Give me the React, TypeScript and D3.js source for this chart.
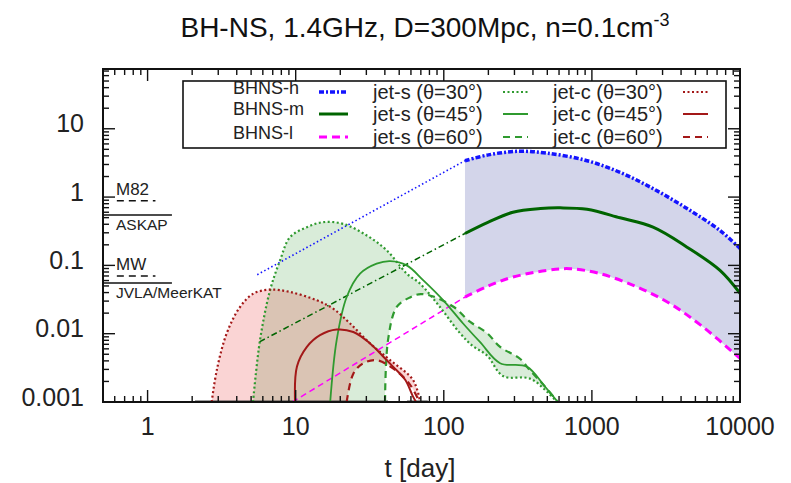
import React from "react";
import * as d3 from "d3";

type P = [number, number];

// ---------- text ----------
const titleMain = "BH-NS, 1.4GHz, D=300Mpc, n=0.1cm";
const titleSup = "-3";
const xLabel = "t [day]";
const xTicks = [1, 10, 100, 1000, 10000];
const xTickLabels = ["1", "10", "100", "1000", "10000"];
const yTicks = [0.001, 0.01, 0.1, 1, 10];
const yTickLabels = ["0.001", "0.01", "0.1", "1", "10"];

// ---------- BH-NS merger ejecta (t [day], flux [mJy]) ----------
const bhnsHEarly: P[] = [[5.5, 0.073], [139, 3.41]];
const bhnsH: P[] = [[139, 3.41], [200, 4.15], [312, 4.67], [498, 4.4], [927, 3.41], [1549, 2.3], [2588, 1.33], [4387, 0.68], [7328, 0.324], [10000, 0.177]];
const bhnsMEarly: P[] = [[5.7, 0.0076], [139, 0.293]];
const bhnsM: P[] = [[139, 0.293], [200, 0.43], [293, 0.6], [450, 0.68], [610, 0.695], [927, 0.664], [1549, 0.497], [2588, 0.362], [4387, 0.185], [7328, 0.0845], [10000, 0.039]];
const bhnsLEarly: P[] = [[9.5, 0.001], [139, 0.0344]];
const bhnsL: P[] = [[139, 0.0344], [200, 0.05], [293, 0.0675], [498, 0.0845], [711, 0.0895], [1135, 0.0757], [2018, 0.0482], [3367, 0.0276], [5623, 0.01256], [10000, 0.00434]];

// ---------- jets ----------
const jetS30: P[] = [[5.15, 0.001], [5.74, 0.008], [6.71, 0.043], [7.84, 0.118], [9.16, 0.259], [11.9, 0.362], [15.3, 0.429], [20.9, 0.406], [30.2, 0.274], [41.2, 0.166], [56.2, 0.0757], [69.1, 0.054], [94.2, 0.0246], [129, 0.0101], [157, 0.0066], [196, 0.0048], [251, 0.0024], [382, 0.0022], [500, 0.0014], [640, 0.0008]];
const jetS45: P[] = [[17.1, 0.001], [18.9, 0.008], [22.1, 0.0344], [27.2, 0.0757], [35.2, 0.106], [43.4, 0.1155], [56.2, 0.1], [72.8, 0.0604], [99.3, 0.0308], [135, 0.0141], [176, 0.0075], [240, 0.0037], [363, 0.0033], [480, 0.0017], [640, 0.0008]];
const jetS60: P[] = [[40.1, 0.001], [42, 0.008], [48.1, 0.0246], [59.1, 0.034], [70, 0.038], [85, 0.035], [117, 0.0246], [150, 0.015], [196, 0.0102], [240, 0.0064], [327, 0.0043], [382, 0.0029], [480, 0.0017], [640, 0.0008]];
const jetC30: P[] = [[2.71, 0.001], [2.93, 0.0029], [3.42, 0.0101], [4.21, 0.0246], [5.18, 0.0386], [6.71, 0.0442], [9.16, 0.0408], [13.9, 0.0308], [17.9, 0.0233], [23.3, 0.0141], [31.8, 0.0072], [43.4, 0.0041], [62, 0.0021], [70, 0.0009]];
const jetC45: P[] = [[9.9, 0.001], [10.2, 0.0033], [11.9, 0.0064], [14.6, 0.0095], [18.9, 0.0115], [24.5, 0.0106], [31.8, 0.0072], [39.1, 0.0046], [45.4, 0.0033], [55, 0.0021], [62, 0.0012], [67, 0.0009]];
const jetC60: P[] = [[22.1, 0.001], [24.5, 0.0026], [28.6, 0.0037], [35.2, 0.0041], [45.4, 0.0031], [59.1, 0.0018], [70, 0.0009]];

// ---------- detection thresholds ----------
const thresholdNames = ["M82", "ASKAP", "MW", "JVLA/MeerKAT"];
const thresholdValues = [0.885, 0.547, 0.07, 0.0552];
const thresholdDashed = [true, false, true, false];

// clipped-at-floor segments along the bottom
const floorSegments: P[] = [[2.09, 42], [56.5, 78]];

const W = 791, H = 483;
const L = 103, R = 740, T = 69, B = 402;

const x = d3.scaleLog().domain([0.5, 10000]).range([L, R]);
const y = d3.scaleLog().domain([0.001, 75]).range([B, T]);

const lineGen = d3
  .line<P>()
  .x((d) => x(d[0]))
  .y((d) => y(d[1]))
  .curve(d3.curveCatmullRom.alpha(0.5));

function band(upper: P[], lower: P[], toFloor: boolean): string {
  const a = lineGen(upper) as string;
  const b = (lineGen([...lower].reverse()) as string).replace(/^M/, "L");
  const tail = toFloor ? `L${x(upper[0][0])},${y(0.001)}` : "";
  return a + b + tail + "Z";
}

const blue = "#1414ff";
const dgreen = "#006400";
const magenta = "#ff00ff";
const sgreen = "#2f9a2f";
const cred = "#a31818";

const FONT = "'Liberation Sans', Arial, Helvetica, sans-serif";

function minorTicks(lo: number, hi: number): number[] {
  const out: number[] = [];
  for (let e = Math.floor(Math.log10(lo)); e <= Math.ceil(Math.log10(hi)); e++) {
    for (let m = 1; m <= 9; m++) {
      const v = m * Math.pow(10, e);
      if (v > lo * 1.0001 && v < hi * 0.9999) out.push(v);
    }
  }
  return out;
}

export default function App() {
  const xMinor = minorTicks(0.5, 10000);
  const yMinor = minorTicks(0.001, 75);
  const isMajor = (v: number) => Math.abs(Math.log10(v) - Math.round(Math.log10(v))) < 1e-6;

  const legendRowsY = [92, 114, 137];
  const bhnsRowsY = [88, 109, 133];
  const legendBHNS = [
    { label: "BHNS-h", color: blue, w: 3.5, dash: "5,2,2,2" },
    { label: "BHNS-m", color: dgreen, w: 3, dash: "" },
    { label: "BHNS-l", color: magenta, w: 3, dash: "8,5" },
  ];
  const angleLabels = ["30", "45", "60"];
  const dashStyles = ["2,2.5", "", "7,5"];

  return (
    <div style={{ position: "fixed", left: 0, top: 0, width: W, height: H, background: "#fff" }}>
      <svg width={W} height={H} viewBox={`0 0 ${W} ${H}`} style={{ display: "block" }} fontFamily={FONT}>
        <defs>
          <clipPath id="plotclip">
            <rect x={L} y={T} width={R - L} height={B - T} />
          </clipPath>
        </defs>

        {/* title */}
        <text x={425} y={37} textAnchor="middle" fontSize={28} fill="#111">
          {titleMain}
          <tspan dy={-11} fontSize={18}>{titleSup}</tspan>
        </text>

        <g clipPath="url(#plotclip)">
          {/* fills */}
          <path d={band(bhnsH, bhnsL, false)} fill="#d3d5ea" stroke="none" />
          <path d={band(jetS30, jetS60, true)} fill="rgb(0,128,0)" fillOpacity={0.15} stroke="none" />
          <path d={band(jetC30, jetC60, true)} fill="rgb(225,0,0)" fillOpacity={0.17} stroke="none" />

          {/* floor segments */}
          {floorSegments.map((s, i) => (
            <line key={i} x1={x(s[0])} x2={x(s[1])} y1={B} y2={B} stroke="#444" strokeWidth={3} />
          ))}

          {/* BHNS early thin lines */}
          <path d={lineGen(bhnsHEarly) as string} fill="none" stroke={blue} strokeWidth={1.6} strokeDasharray="1.5,2.5" />
          <path d={lineGen(bhnsMEarly) as string} fill="none" stroke={dgreen} strokeWidth={1.5} strokeDasharray="6,3,1.5,3" />
          <path d={lineGen(bhnsLEarly) as string} fill="none" stroke={magenta} strokeWidth={1.5} strokeDasharray="6,4" />

          {/* jets */}
          {[jetS30, jetS45, jetS60].map((d, i) => (
            <path key={"s" + i} d={lineGen(d) as string} fill="none" stroke={sgreen} strokeWidth={i === 1 ? 1.8 : 2.2} strokeDasharray={dashStyles[i]} />
          ))}
          {[jetC30, jetC45, jetC60].map((d, i) => (
            <path key={"c" + i} d={lineGen(d) as string} fill="none" stroke={cred} strokeWidth={i === 1 ? 2 : 2.2} strokeDasharray={dashStyles[i]} />
          ))}

          {/* BHNS thick lines */}
          <path d={lineGen(bhnsH) as string} fill="none" stroke={blue} strokeWidth={3.5} strokeDasharray="5,2,2,2" />
          <path d={lineGen(bhnsM) as string} fill="none" stroke={dgreen} strokeWidth={3} />
          <path d={lineGen(bhnsL) as string} fill="none" stroke={magenta} strokeWidth={3} strokeDasharray="8,5" />
        </g>

        {/* thresholds */}
        {thresholdNames.map((name, i) => {
          const yy = y(thresholdValues[i]);
          const dashed = thresholdDashed[i];
          return (
            <g key={name}>
              {dashed ? (
                <line x1={x(0.62)} x2={x(1.13)} y1={yy} y2={yy} stroke="#111" strokeWidth={1.5} strokeDasharray="7,5" />
              ) : (
                <line x1={L} x2={x(1.46)} y1={yy} y2={yy} stroke="#111" strokeWidth={1.5} />
              )}
              <text
                x={116}
                y={dashed ? yy - 6 : yy + 15}
                fontSize={dashed ? 17 : 15.5}
                fill="#222"
              >
                {name}
              </text>
            </g>
          );
        })}

        {/* ticks */}
        <g stroke="#111" strokeWidth={1.4}>
          {xMinor.map((v, i) => {
            const len = isMajor(v) ? 12 : 6;
            const xx = x(v);
            return (
              <g key={"xt" + i}>
                <line x1={xx} x2={xx} y1={B} y2={B - len} />
                <line x1={xx} x2={xx} y1={T} y2={T + len} />
              </g>
            );
          })}
          {yMinor.map((v, i) => {
            const len = isMajor(v) ? 12 : 6;
            const yy = y(v);
            return (
              <g key={"yt" + i}>
                <line x1={L} x2={L + len} y1={yy} y2={yy} />
                <line x1={R} x2={R - len} y1={yy} y2={yy} />
              </g>
            );
          })}
        </g>

        {/* frame */}
        <rect x={L} y={T} width={R - L} height={B - T} fill="none" stroke="#111" strokeWidth={2} />

        {/* tick labels */}
        {xTicks.map((v, i) => (
          <text key={"xl" + i} x={x(v)} y={435} textAnchor="middle" fontSize={25} fill="#222">
            {xTickLabels[i]}
          </text>
        ))}
        {yTicks.map((v, i) => (
          <text key={"yl" + i} x={84} y={y(v) + 3.5} textAnchor="end" fontSize={25} fill="#222">
            {yTickLabels[i]}
          </text>
        ))}
        <text x={420} y={477} textAnchor="middle" fontSize={26} fill="#222">
          {xLabel}
        </text>

        {/* legend */}
        <rect x={183} y={81} width={543} height={67} fill="#fff" stroke="#111" strokeWidth={1.6} />
        {legendBHNS.map((it, i) => (
          <g key={it.label}>
            <text x={233} y={bhnsRowsY[i] + 6} fontSize={18} fill="#222">
              {it.label}
            </text>
            <line x1={319} x2={348} y1={legendRowsY[i]} y2={legendRowsY[i]} stroke={it.color} strokeWidth={it.w} strokeDasharray={it.dash} />
          </g>
        ))}
        {angleLabels.map((a, i) => (
          <g key={"lg" + a}>
            <text x={373} y={legendRowsY[i] + 7} fontSize={20} fill="#222">
              {`jet-s (θ=${a}°)`}
            </text>
            <line x1={503} x2={528} y1={legendRowsY[i]} y2={legendRowsY[i]} stroke={sgreen} strokeWidth={2} strokeDasharray={dashStyles[i]} />
            <text x={553} y={legendRowsY[i] + 7} fontSize={20} fill="#222">
              {`jet-c (θ=${a}°)`}
            </text>
            <line x1={683} x2={708} y1={legendRowsY[i]} y2={legendRowsY[i]} stroke={cred} strokeWidth={2} strokeDasharray={dashStyles[i]} />
          </g>
        ))}
      </svg>
    </div>
  );
}
